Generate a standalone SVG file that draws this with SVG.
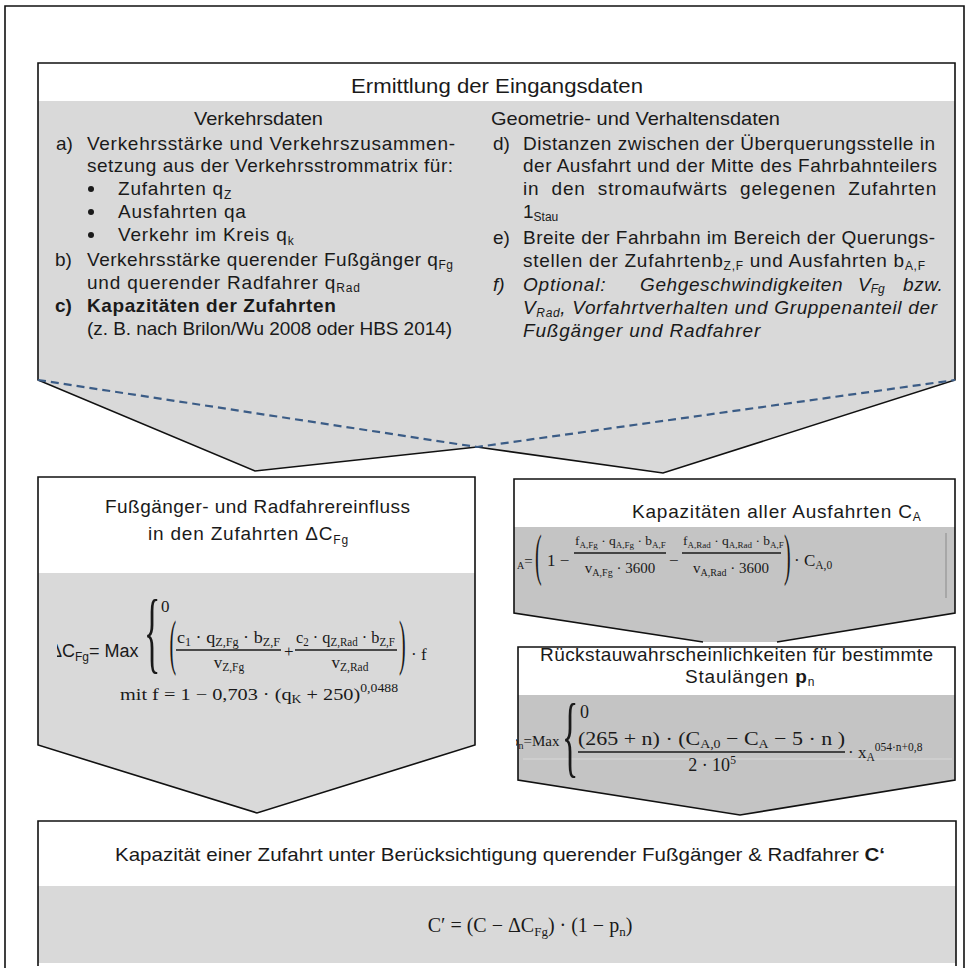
<svg xmlns="http://www.w3.org/2000/svg" width="970" height="969" viewBox="0 0 970 969">
<defs>
<style>
.t{font-family:"Liberation Sans",Arial,sans-serif;font-size:19px;fill:#1a1a1a}
.b{font-weight:bold}
.i{font-style:italic}
.sub{font-size:12px}
.m{font-family:"Liberation Serif","DejaVu Serif",serif;font-size:17px;fill:#1a1a1a}
.ms{font-size:11.5px}
.edge{fill:none;stroke:#111;stroke-width:1.6;stroke-linejoin:miter}
.g1{fill:#d9d9d9}
.g2{fill:#c4c4c4}
.w{fill:#fff}
.fl{stroke:#1a1a1a;stroke-width:1.3}
.dash{fill:none;stroke:#3b5c86;stroke-width:2.2;stroke-dasharray:8 5}
</style>
<clipPath id="cl1"><rect x="57" y="590" width="420" height="120"/></clipPath>
<clipPath id="cl2"><rect x="517" y="530" width="440" height="80"/></clipPath>
<clipPath id="cl3"><rect x="516" y="700" width="440" height="80"/></clipPath>
</defs>
<rect x="0" y="0" width="970" height="969" fill="#fff"/>
<path class="edge" d="M5,968 V6 H964 V968"/>

<g id="n-eingangsdaten">
<rect class="w" x="38" y="63" width="917" height="38"/>
<polygon class="g1" points="38,101 955,101 955,380 663,473 477,447 255,471 38,380"/>
<path class="edge" d="M38,380 V63 H955 V380 L663,473 L477,447 L255,471 Z"/>
<text class="t" x="351" y="93" style="font-size:20px" textLength="292" lengthAdjust="spacingAndGlyphs">Ermittlung der Eingangsdaten</text>
<text class="t" x="194" y="125" textLength="129" lengthAdjust="spacingAndGlyphs">Verkehrsdaten</text>
<text class="t" x="491" y="125" textLength="289" lengthAdjust="spacingAndGlyphs">Geometrie- und Verhaltensdaten</text>

<text class="t" x="56" y="150">a)</text>
<text class="t" x="87" y="150" textLength="368" lengthAdjust="spacing">Verkehrsstärke und Verkehrszusammen-</text>
<text class="t" x="87" y="172" textLength="366" lengthAdjust="spacing">setzung aus der Verkehrsstrommatrix für:</text>
<circle cx="91" cy="189" r="3" fill="#1a1a1a"/>
<circle cx="91" cy="212" r="3" fill="#1a1a1a"/>
<circle cx="91" cy="235" r="3" fill="#1a1a1a"/>
<text class="t" x="118" y="195" letter-spacing="0.8">Zufahrten q<tspan class="sub" dy="4">Z</tspan></text>
<text class="t" x="118" y="218" letter-spacing="0.8">Ausfahrten qa</text>
<text class="t" x="118" y="241" letter-spacing="0.8">Verkehr im Kreis q<tspan class="sub" dy="4">k</tspan></text>
<text class="t" x="55" y="266">b)</text>
<text class="t" x="87" y="266" textLength="366" lengthAdjust="spacing">Verkehrsstärke querender Fußgänger q<tspan class="sub" dy="3">Fg</tspan></text>
<text class="t" x="87" y="289" letter-spacing="0.8">und querender Radfahrer q<tspan class="sub" dy="3">Rad</tspan></text>
<text class="t b" x="55" y="312">c)</text>
<text class="t b" x="87" y="312" letter-spacing="0.6">Kapazitäten der Zufahrten</text>
<text class="t" x="87" y="335" textLength="365" lengthAdjust="spacing">(z. B. nach Brilon/Wu 2008 oder HBS 2014)</text>

<text class="t" x="493" y="150">d)</text>
<text class="t" x="523" y="150" textLength="412" lengthAdjust="spacing">Distanzen zwischen der Überquerungsstelle in</text>
<text class="t" x="523" y="172" textLength="414" lengthAdjust="spacing">der Ausfahrt und der Mitte des Fahrbahnteilers</text>
<text class="t" x="523" y="195" letter-spacing="0.8" word-spacing="6" textLength="414" lengthAdjust="spacing">in den stromaufwärts gelegenen Zufahrten</text>
<text class="t" x="523" y="218">1<tspan class="sub" dy="3">Stau</tspan></text>
<text class="t" x="493" y="244">e)</text>
<text class="t" x="523" y="244" textLength="412" lengthAdjust="spacing">Breite der Fahrbahn im Bereich der Querungs-</text>
<text class="t" x="523" y="267" textLength="402" lengthAdjust="spacing">stellen der Zufahrtenb<tspan class="sub" dy="3">Z,F</tspan><tspan dy="-3"> und Ausfahrten b</tspan><tspan class="sub" dy="3">A,F</tspan></text>
<text class="t i" x="493" y="291">f)</text>
<text class="t i" x="523" y="291" letter-spacing="0.8">Optional:</text>
<text class="t i" x="640" y="291" letter-spacing="0.6">Gehgeschwindigkeiten</text>
<text class="t i" x="858" y="291">V<tspan class="sub" dy="2">Fg</tspan></text>
<text class="t i" x="903" y="291" letter-spacing="0.6">bzw.</text>
<text class="t i" x="523" y="314" textLength="414" lengthAdjust="spacing">V<tspan class="sub" dy="3">Rad</tspan><tspan dy="-3">, Vorfahrtverhalten und Gruppenanteil der</tspan></text>
<text class="t i" x="523" y="337" letter-spacing="0.8">Fußgänger und Radfahrer</text>
</g>

<g id="connectors">
<polyline class="dash" points="38,380 477,447 955,380"/>
</g>

<g id="n-fussgaenger">
<rect class="w" x="38" y="477" width="437" height="96"/>
<polygon class="g1" points="38,573 475,573 475,745 257,813 38,745"/>
<path class="edge" d="M38,745 V477 H475 V745 L257,813 Z"/>
<text class="t" x="105" y="513" textLength="305" lengthAdjust="spacing">Fußgänger- und Radfahrereinfluss</text>
<text class="t" x="148" y="540" letter-spacing="0.8">in den Zufahrten ΔC<tspan class="sub" dy="4">Fg</tspan></text>
<g clip-path="url(#cl1)">
<text class="t" x="50" y="657" style="font-size:18px">ΔC<tspan class="sub" dy="4">Fg</tspan><tspan dy="-4">= Max</tspan></text>
</g>
<text class="m" transform="translate(144,662) scale(1,2.7)" style="font-size:34px">{</text>
<text class="m" x="161" y="612">0</text>
<text class="m" transform="translate(169.5,663) scale(1,3.05)" style="font-size:20px">(</text>
<text class="m" x="177" y="643" textLength="103" lengthAdjust="spacingAndGlyphs">c<tspan class="ms" dy="3">1</tspan><tspan dy="-3"> · q</tspan><tspan class="ms" dy="3">Z,Fg</tspan><tspan dy="-3"> · b</tspan><tspan class="ms" dy="3">Z,F</tspan></text>
<line class="fl" x1="176" y1="650" x2="281" y2="650"/>
<text class="m" x="229" y="668" text-anchor="middle">v<tspan class="ms" dy="3">Z,Fg</tspan></text>
<text class="m" x="284" y="657">+</text>
<text class="m" x="296" y="643" textLength="99" lengthAdjust="spacingAndGlyphs">c<tspan class="ms" dy="3">2</tspan><tspan dy="-3"> · q</tspan><tspan class="ms" dy="3">Z,Rad</tspan><tspan dy="-3"> · b</tspan><tspan class="ms" dy="3">Z,F</tspan></text>
<line class="fl" x1="295" y1="650" x2="397" y2="650"/>
<text class="m" x="350" y="668" text-anchor="middle">v<tspan class="ms" dy="3">Z,Rad</tspan></text>
<text class="m" transform="translate(399,663) scale(1,3.05)" style="font-size:20px">)</text>
<text class="m" x="411" y="660">· f</text>
<text class="m" x="120" y="700" textLength="278" lengthAdjust="spacingAndGlyphs">mit f = 1 − 0,703 · (q<tspan class="ms" dy="3">K</tspan><tspan dy="-3"> + 250)</tspan><tspan class="ms" dy="-8">0,0488</tspan></text>
</g>

<g id="n-ausfahrten">
<rect class="w" x="514" y="479" width="441" height="48"/>
<polygon class="g2" points="514,527 955,527 955,613 777,642 703,642 514,613"/>
<path class="edge" d="M703,642 L514,613 V479 H955 V613 L777,642"/>
<text class="t" x="632" y="518" letter-spacing="0.8">Kapazitäten aller Ausfahrten C<tspan class="sub" dy="3">A</tspan></text>
<g clip-path="url(#cl2)">
<text class="m" x="507" y="566" style="font-size:15px">C<tspan class="ms" style="font-size:10px" dy="3">A</tspan><tspan dy="-3">=</tspan></text>
</g>
<text class="m" transform="translate(535,574) scale(1,2.9)" style="font-size:20px">(</text>
<text class="m" x="547" y="566">1 −</text>
<text class="m" x="575" y="545" style="font-size:13.5px">f<tspan class="ms" style="font-size:9px" dy="3">A,Fg</tspan><tspan dy="-3"> · q</tspan><tspan class="ms" style="font-size:9px" dy="3">A,Fg</tspan><tspan dy="-3"> · b</tspan><tspan class="ms" style="font-size:9px" dy="3">A,F</tspan></text>
<line class="fl" x1="574" y1="553" x2="666" y2="553"/>
<text class="m" x="620" y="573" style="font-size:15px" text-anchor="middle">v<tspan class="ms" style="font-size:10px" dy="3">A,Fg</tspan><tspan dy="-3"> · 3600</tspan></text>
<text class="m" x="669" y="566">−</text>
<text class="m" x="683" y="545" style="font-size:13.5px">f<tspan class="ms" style="font-size:9px" dy="3">A,Rad</tspan><tspan dy="-3"> · q</tspan><tspan class="ms" style="font-size:9px" dy="3">A,Rad</tspan><tspan dy="-3"> · b</tspan><tspan class="ms" style="font-size:9px" dy="3">A,F</tspan></text>
<line class="fl" x1="682" y1="553" x2="781" y2="553"/>
<text class="m" x="731" y="573" style="font-size:15px" text-anchor="middle">v<tspan class="ms" style="font-size:10px" dy="3">A,Rad</tspan><tspan dy="-3"> · 3600</tspan></text>
<text class="m" transform="translate(784,574) scale(1,2.9)" style="font-size:20px">)</text>
<text class="m" x="794" y="566">· C<tspan class="ms" dy="3">A,0</tspan></text>
<line x1="946" y1="533" x2="946" y2="598" stroke="#8a8a8a" stroke-width="1"/>
</g>

<g id="n-rueckstau">
<rect class="w" x="518" y="647" width="437" height="48"/>
<polygon class="g2" points="518,695 955,695 955,780 740,815 518,780"/>
<path class="edge" d="M518,780 V647 H955 V780 L740,815 Z"/>
<text class="t" x="540" y="661" textLength="393" lengthAdjust="spacing">Rückstauwahrscheinlichkeiten für bestimmte</text>
<text class="t" x="685" y="683" letter-spacing="0.8">Staulängen <tspan class="b">p</tspan><tspan class="sub" dy="3">n</tspan></text>
<line x1="523" y1="759" x2="952" y2="759" stroke="#d8d8d8" stroke-width="1"/>
<g clip-path="url(#cl3)">
<text class="m" x="511" y="746" style="font-size:15px">p<tspan class="ms" style="font-size:10px" dy="3">n</tspan><tspan dy="-3">=Max</tspan></text>
</g>
<text class="m" transform="translate(562,766) scale(1,2.65)" style="font-size:34px">{</text>
<text class="m" x="580" y="718" style="font-size:18px">0</text>
<text class="m" x="578" y="745" style="font-size:19px" textLength="267" lengthAdjust="spacingAndGlyphs">(265 + n) · (C<tspan class="ms" style="font-size:12px" dy="3">A,0</tspan><tspan dy="-3"> − C</tspan><tspan class="ms" style="font-size:12px" dy="3">A</tspan><tspan dy="-3"> − 5 · n )</tspan></text>
<line class="fl" x1="578" y1="752" x2="845" y2="752"/>
<text class="m" x="712" y="771" style="font-size:18px" text-anchor="middle">2 · 10<tspan class="ms" dy="-7">5</tspan></text>
<text class="m" x="848" y="758">· x<tspan class="ms" dy="3">A</tspan><tspan class="ms" dy="-10">054·n+0,8</tspan></text>
</g>

<g id="n-kapazitaet">
<rect class="w" x="38" y="821" width="918" height="65"/>
<rect class="g1" x="38" y="886" width="918" height="77"/>
<path class="edge" d="M38,966 V821 H956 V966"/>
<text class="t" x="115" y="861" textLength="770" lengthAdjust="spacingAndGlyphs">Kapazität einer Zufahrt unter Berücksichtigung querender Fußgänger &amp; Radfahrer <tspan class="b">C‘</tspan></text>
<text class="m" x="530" y="932" style="font-size:20px" text-anchor="middle">C′ = (C − ΔC<tspan class="ms" style="font-size:13px" dy="4">Fg</tspan><tspan dy="-4">) · (1 − p</tspan><tspan class="ms" style="font-size:13px" dy="4">n</tspan><tspan dy="-4">)</tspan></text>
</g>
</svg>
